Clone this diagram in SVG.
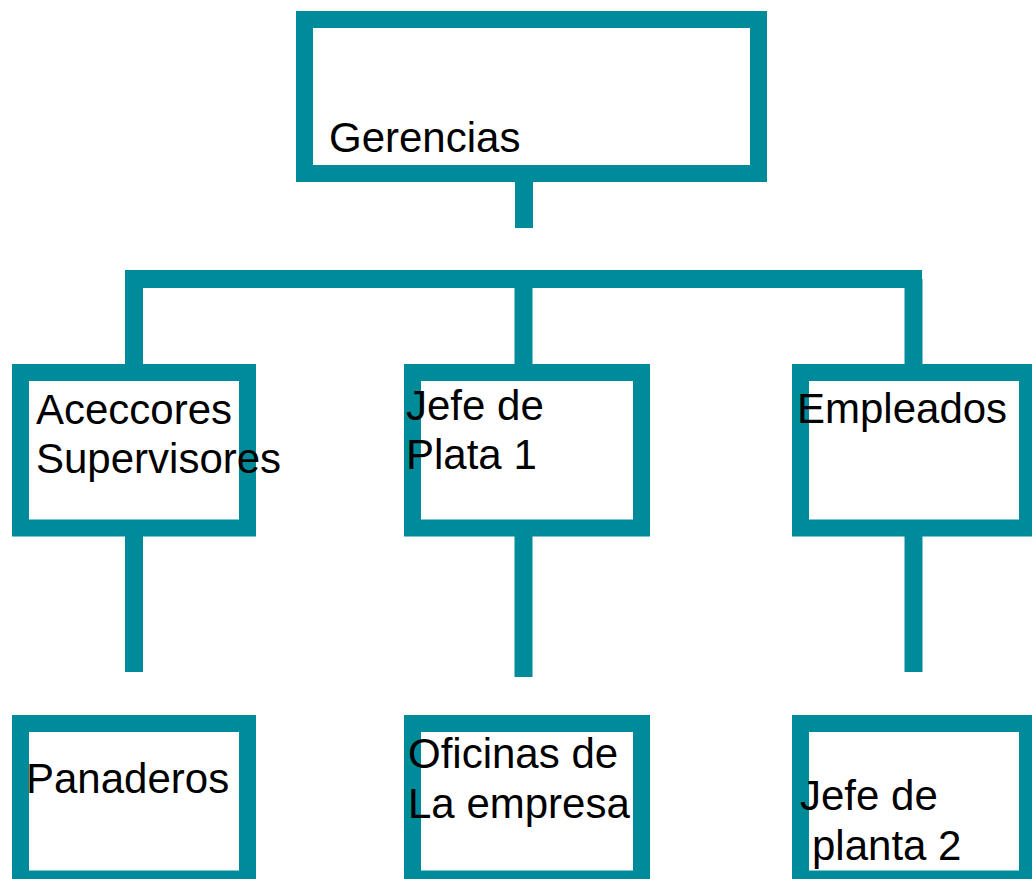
<svg xmlns="http://www.w3.org/2000/svg" width="1032" height="879" viewBox="0 0 1032 879">
<style>
.box{fill:#ffffff;stroke:#008B9A;stroke-width:17}
.con{stroke:#008B9A;stroke-width:18;fill:none;stroke-linecap:butt}
text{font-family:"Liberation Sans",Arial,sans-serif;font-size:42px;fill:#000000}
</style>
<rect width="1032" height="879" fill="#ffffff"/>
<g id="connectors">
<line class="con" x1="524" y1="182" x2="524" y2="228"/>
<line class="con" x1="125" y1="279" x2="922" y2="279"/>
<line class="con" x1="134" y1="279" x2="134" y2="365"/>
<line class="con" x1="523.5" y1="279" x2="523.5" y2="365"/>
<line class="con" x1="913.5" y1="279" x2="913.5" y2="365"/>
<line class="con" x1="134" y1="536" x2="134" y2="672"/>
<line class="con" x1="523.5" y1="536" x2="523.5" y2="677"/>
<line class="con" x1="913.5" y1="536" x2="913.5" y2="672"/>
</g>
<g id="gerencias">
<rect class="box" x="304.5" y="19.5" width="454" height="154"/>
<text x="329" y="152">Gerencias</text>
</g>
<g id="aceccores">
<rect class="box" x="20.5" y="372.5" width="227" height="155.5"/>
<text x="36" y="424">Aceccores</text>
<text x="36" y="473">Supervisores</text>
</g>
<g id="jefe-plata">
<rect class="box" x="412.5" y="372.5" width="229" height="155.5"/>
<text x="406" y="420">Jefe de</text>
<text x="406" y="469">Plata 1</text>
</g>
<g id="empleados">
<rect class="box" x="800.5" y="372.5" width="227" height="155.5"/>
<text x="797" y="423">Empleados</text>
</g>
<g id="panaderos">
<rect class="box" x="20.5" y="723.5" width="227" height="155.5"/>
<text x="26" y="793">Panaderos</text>
</g>
<g id="oficinas">
<rect class="box" x="412.5" y="723.5" width="229" height="155.5"/>
<text x="408" y="768">Oficinas de</text>
<text x="408" y="818">La empresa</text>
</g>
<g id="jefe-planta">
<rect class="box" x="800.5" y="723.5" width="227" height="155.5"/>
<text x="800" y="810">Jefe de</text>
<text x="812" y="860">planta 2</text>
</g>
</svg>
